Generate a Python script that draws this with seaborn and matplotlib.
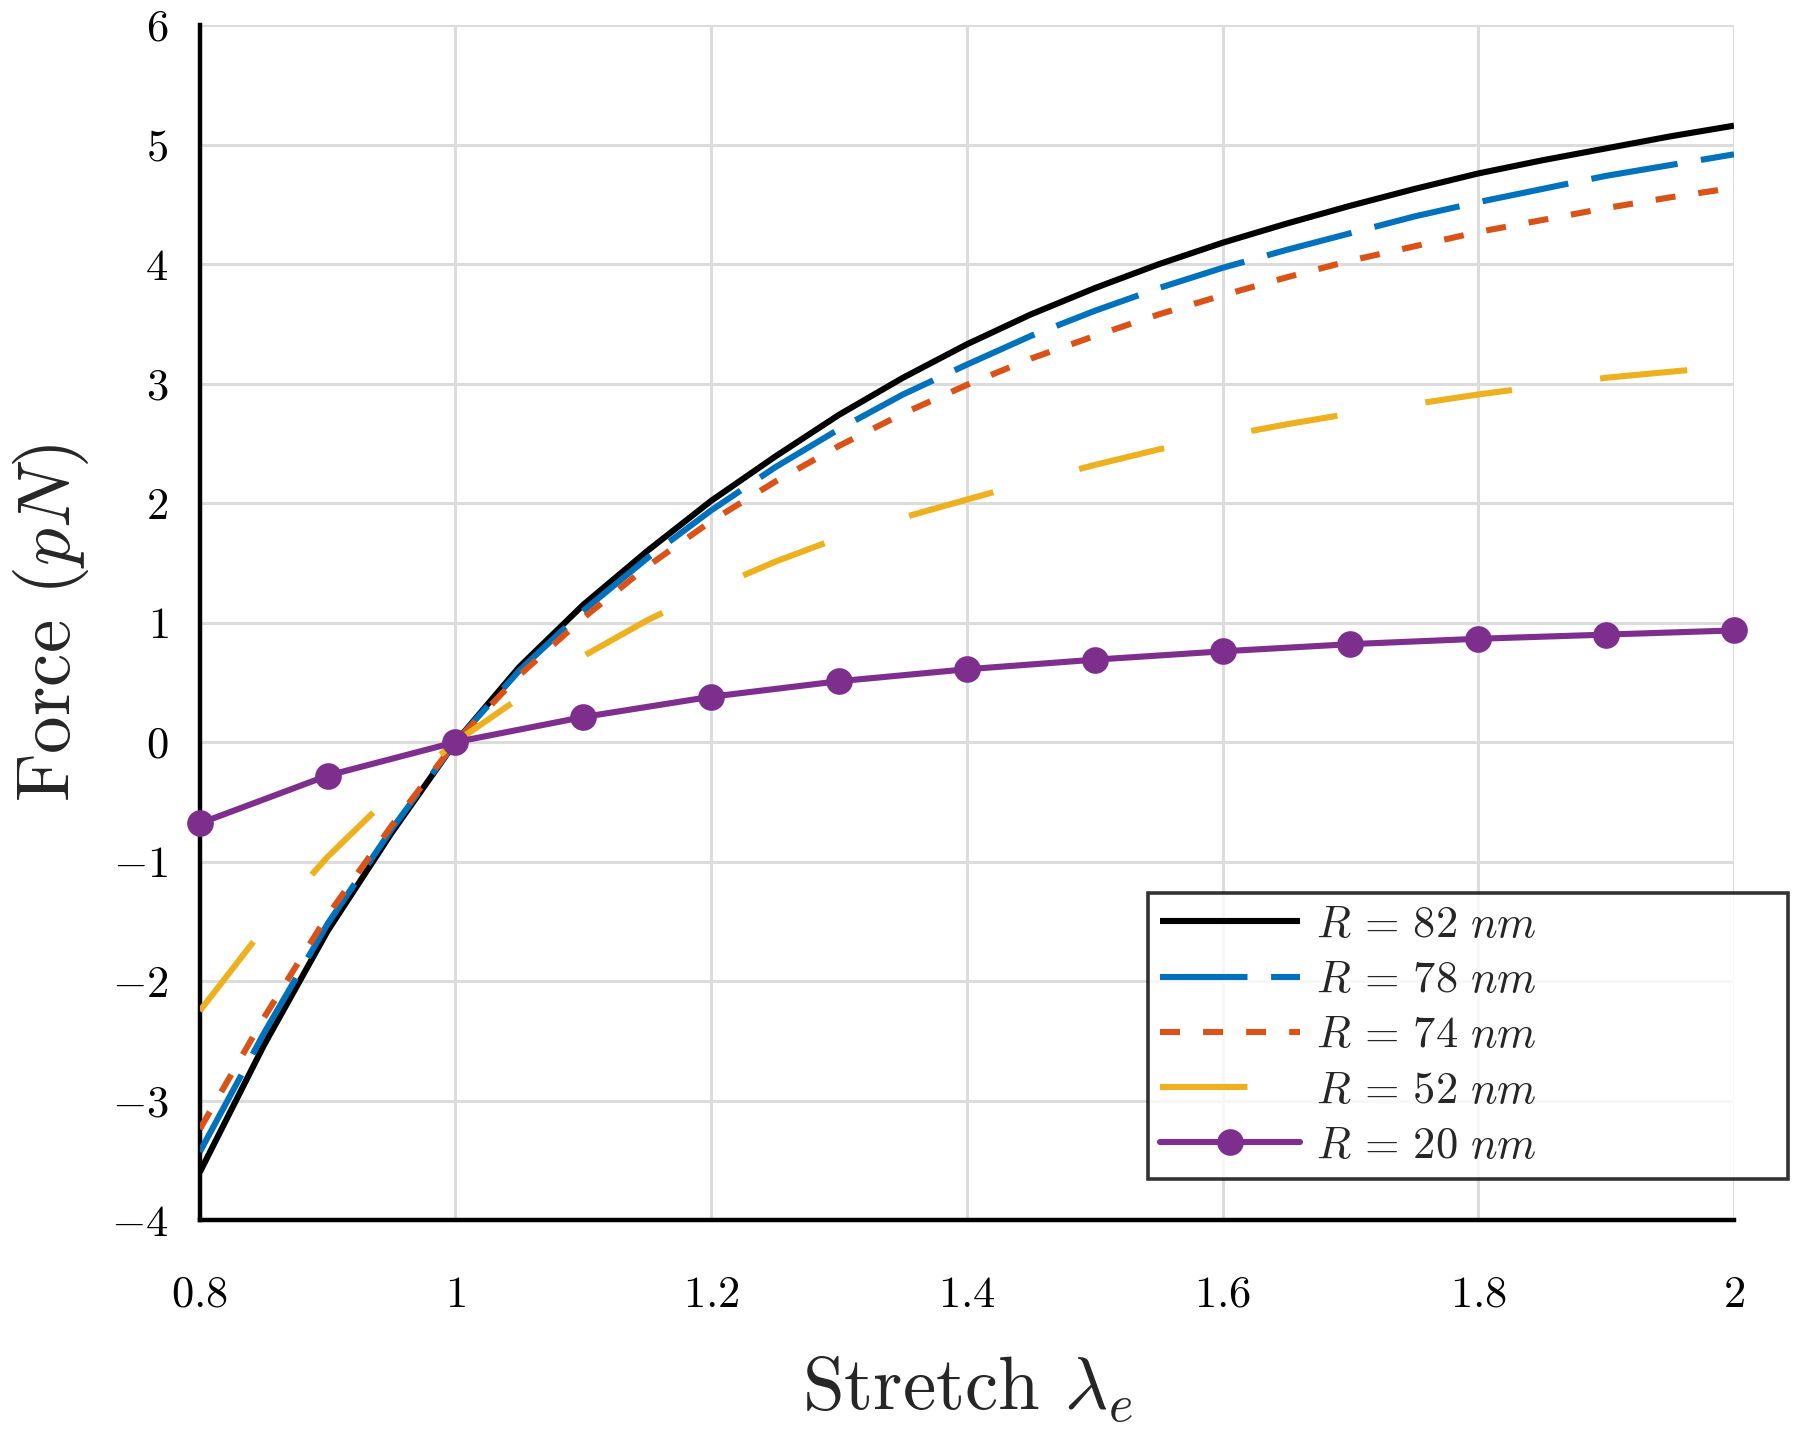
import matplotlib
matplotlib.use("Agg")
import matplotlib.pyplot as plt
import seaborn as sns
from matplotlib.ticker import FuncFormatter

# ---------------- data ----------------
lam = [0.80, 0.85, 0.90, 0.95, 1.00, 1.05, 1.10, 1.15, 1.20, 1.25, 1.30, 1.35,
       1.40, 1.45, 1.50, 1.55, 1.60, 1.65, 1.70, 1.75, 1.80, 1.85, 1.90, 1.95, 2.00]
force_r82 = [-3.60, -2.54, -1.58, -0.76, 0.00, 0.63, 1.15, 1.60, 2.02, 2.39, 2.74, 3.05,
             3.33, 3.58, 3.80, 4.00, 4.18, 4.34, 4.49, 4.63, 4.76, 4.87, 4.97, 5.07, 5.16]
force_r78 = [-3.43, -2.44, -1.52, -0.73, 0.00, 0.60, 1.10, 1.54, 1.94, 2.30, 2.62, 2.91,
             3.16, 3.40, 3.61, 3.80, 3.97, 4.12, 4.26, 4.40, 4.52, 4.63, 4.74, 4.83, 4.92]
force_r74 = [-3.24, -2.31, -1.45, -0.70, 0.00, 0.56, 1.04, 1.47, 1.85, 2.18, 2.48, 2.75,
             2.99, 3.21, 3.40, 3.58, 3.74, 3.89, 4.03, 4.15, 4.27, 4.37, 4.47, 4.56, 4.64]
force_r52 = [-2.25, -1.56, -0.96, -0.44, 0.00, 0.37, 0.72, 1.02, 1.28, 1.51, 1.71, 1.88,
             2.03, 2.18, 2.32, 2.45, 2.56, 2.66, 2.75, 2.83, 2.91, 2.98, 3.05, 3.10, 3.15]
lam_r20 = [0.8, 0.9, 1.0, 1.1, 1.2, 1.3, 1.4, 1.5, 1.6, 1.7, 1.8, 1.9, 2.0]
force_r20 = [-0.68, -0.28, 0.00, 0.21, 0.38, 0.51, 0.61, 0.69, 0.76,
             0.82, 0.865, 0.90, 0.935]

labels = [r"$R\,=\,82\ nm$", r"$R\,=\,78\ nm$", r"$R\,=\,74\ nm$",
          r"$R\,=\,52\ nm$", r"$R\,=\,20\ nm$"]
colors = ["#000000", "#0072BD", "#D95319", "#EDB120", "#7E2F8E"]
xticks = [0.8, 1.0, 1.2, 1.4, 1.6, 1.8, 2.0]
yticks = [-4, -3, -2, -1, 0, 1, 2, 3, 4, 5, 6]

# ---------------- style ----------------
sns.set_theme(style="white")
plt.rcParams["font.family"] = ["cmr10", "DejaVu Serif"]
plt.rcParams["mathtext.fontset"] = "cm"
plt.rcParams["axes.formatter.use_mathtext"] = True
plt.rcParams["lines.scale_dashes"] = False

DPI = 200
fig = plt.figure(figsize=(1800 / DPI, 1432 / DPI), dpi=DPI)
ax = fig.add_axes([199.8 / 1800, 1 - 1220 / 1432, (1734 - 199.8) / 1800, (1220 - 25.3) / 1432])

LW = 2.2
series = [force_r82, force_r78, force_r74, force_r52]
dashes = [None, (31.5, 8.5), (7.2, 8.3), (31.5, 32.0)]
handles = []
for i, (vals, c, d, lab) in enumerate(zip(series, colors[:4], dashes, labels[:4])):
    sns.lineplot(x=lam, y=vals, ax=ax, color=c, linewidth=LW, estimator=None,
                 sort=False, legend=False)
    ln = ax.lines[-1]
    ln.set_solid_capstyle("butt")
    ln.set_dash_capstyle("butt")
    ln.set_solid_joinstyle("round")
    if d is not None:
        ln.set_dashes(d)
    ln.set_label(lab)
    ln.set_zorder(3 + 0.1 * i)
    handles.append(ln)

sns.lineplot(x=lam_r20, y=force_r20, ax=ax, color=colors[4], linewidth=LW,
             marker="o", markersize=9.6, markeredgewidth=0, estimator=None,
             sort=False, legend=False)
ln = ax.lines[-1]
ln.set_clip_on(False)
ln.set_label(labels[4])
ln.set_zorder(4)
handles.append(ln)

ax.set_xlim(0.8, 2.0)
ax.set_ylim(-4, 6)
ax.set_xticks(xticks)
ax.set_yticks(yticks)
ax.xaxis.set_major_formatter(FuncFormatter(lambda v, p: f"${v:g}$"))
ax.yaxis.set_major_formatter(FuncFormatter(lambda v, p: f"${v:g}$"))

ax.grid(True, color="#dcdcdc", linewidth=1.1)
ax.set_axisbelow(True)
for s in ["top", "right"]:
    ax.spines[s].set_visible(False)
for s in ["left", "bottom"]:
    ax.spines[s].set_color("black")
    ax.spines[s].set_linewidth(1.6)
ax.tick_params(axis="both", which="major", direction="in", length=6, width=1.4,
               colors="black", labelsize=16)
ax.tick_params(axis="y", pad=11.3)
ax.tick_params(axis="x", pad=20)

ax.set_xlabel(r"Stretch $\lambda_e$", fontsize=27, labelpad=14)
ax.set_ylabel(r"Force $(pN)$", fontsize=27, labelpad=7)

leg = ax.legend(handles=handles, labels=labels, loc="lower left",
                bbox_to_anchor=(0.618, 0.034, 0.417, 0.24), mode="expand",
                fontsize=16, frameon=True, fancybox=False, handlelength=3.15,
                handletextpad=0.35, labelspacing=0.34, borderpad=0.28,
                borderaxespad=0)
leg.get_frame().set_edgecolor("black")
leg.get_frame().set_linewidth(1.3)
leg.set_zorder(10)

fig.savefig("out.png", dpi=DPI, facecolor="white")
